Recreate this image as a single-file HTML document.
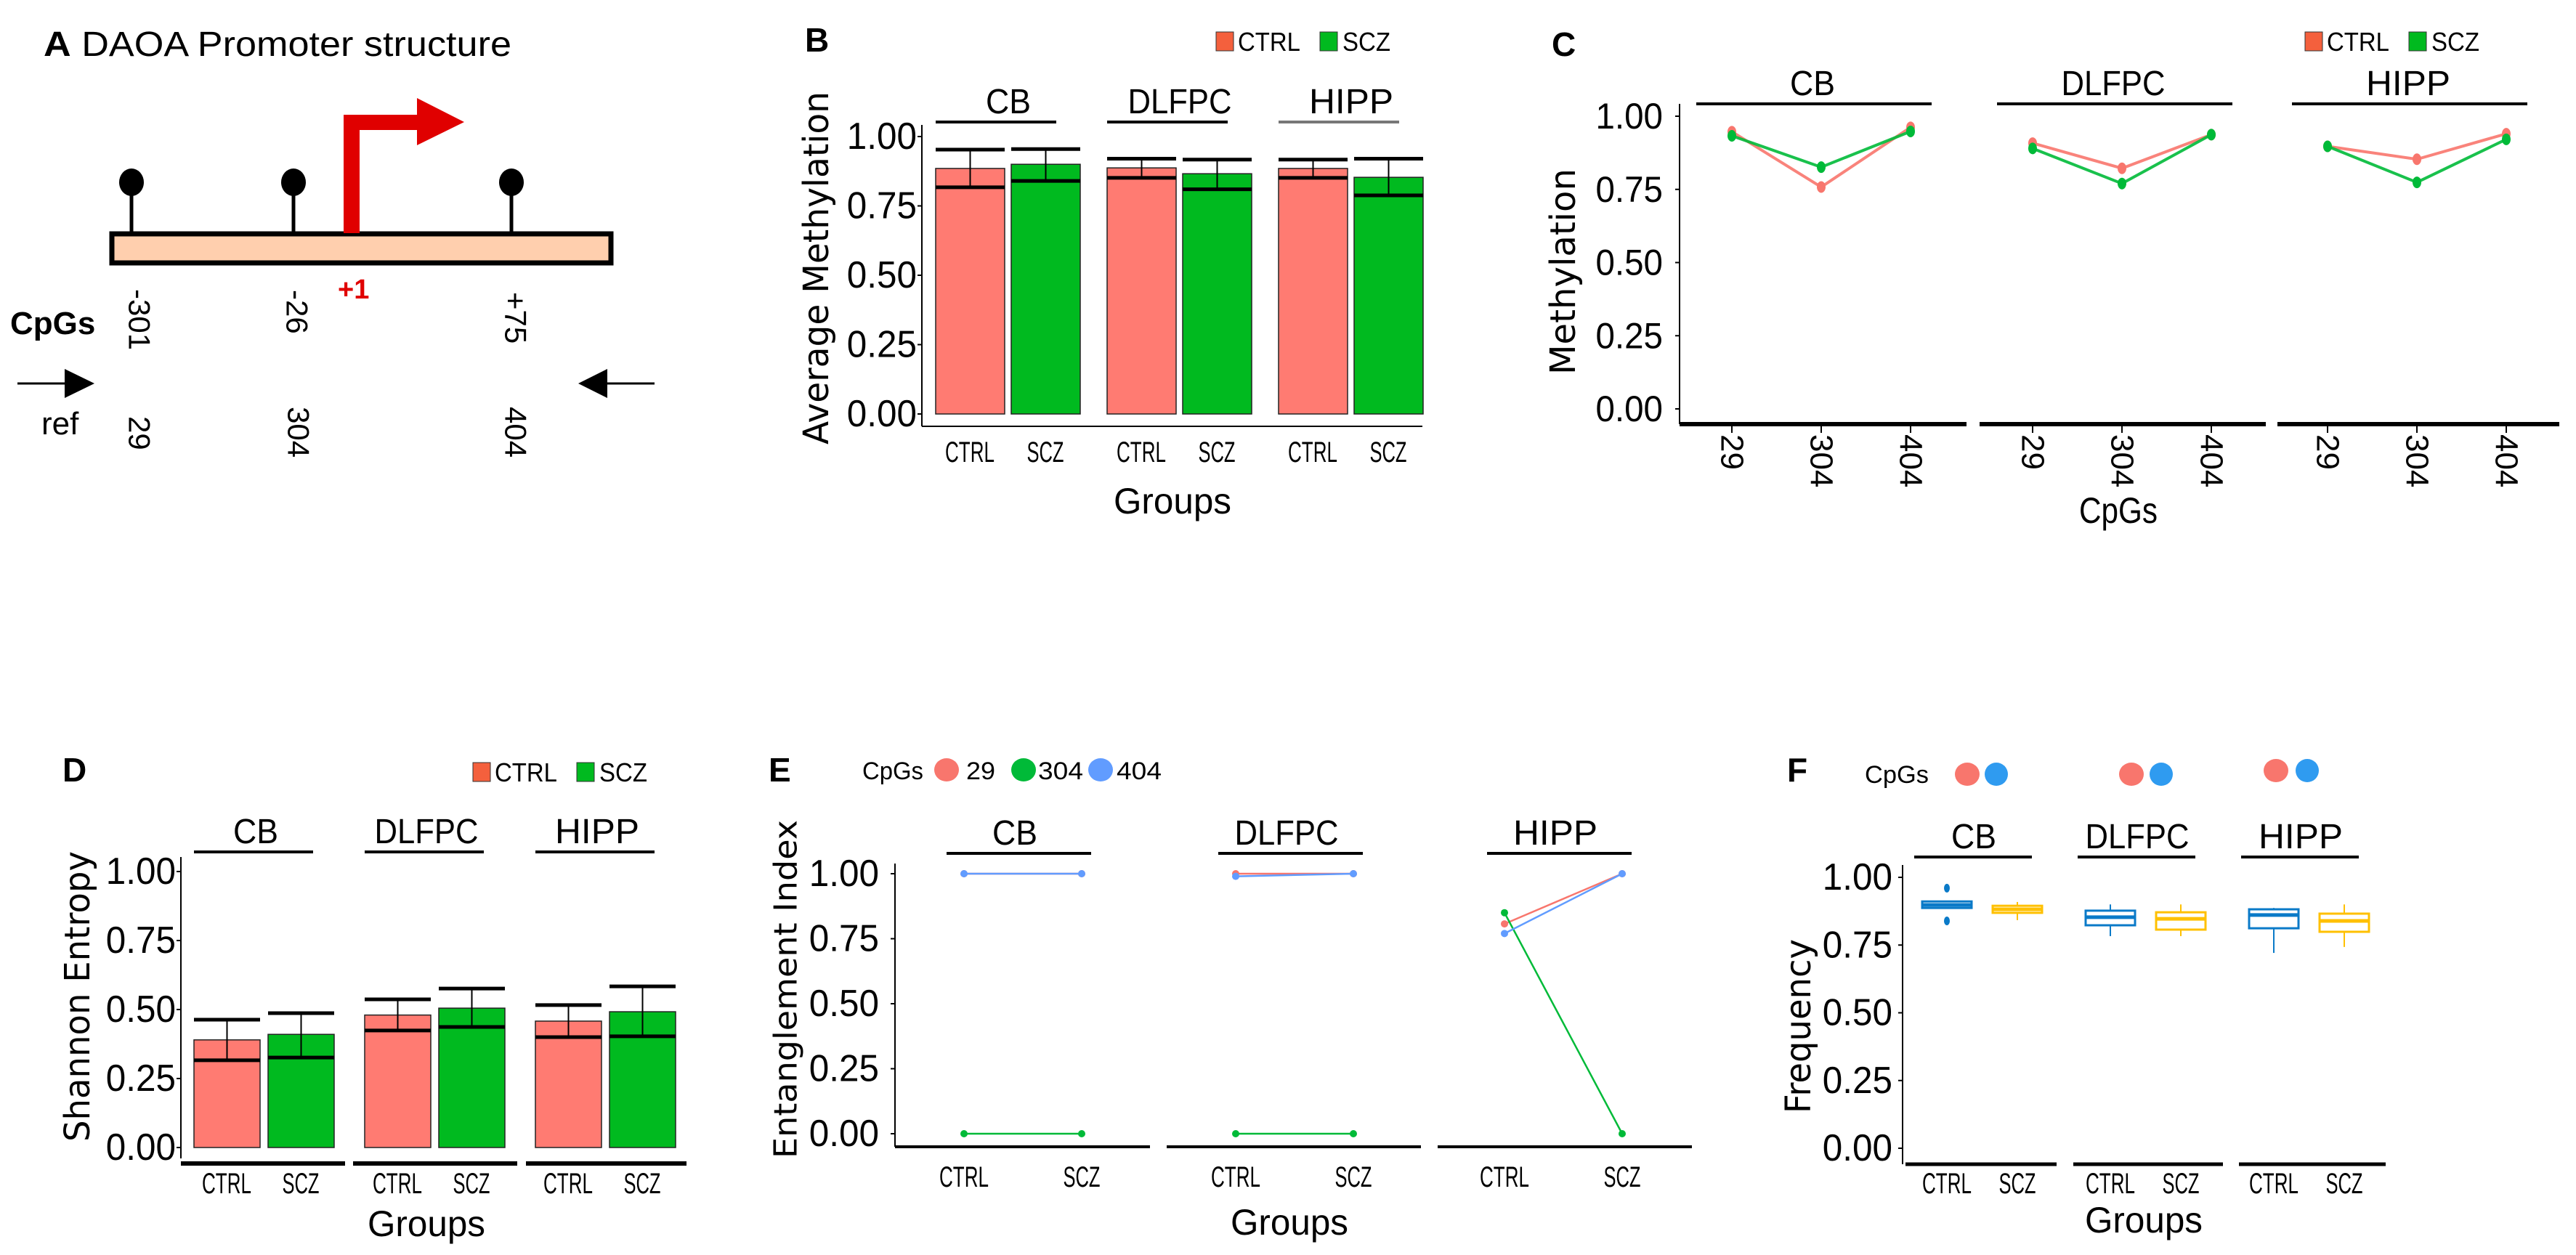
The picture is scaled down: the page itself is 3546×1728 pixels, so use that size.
<!DOCTYPE html>
<html><head><meta charset="utf-8">
<style>
html,body{margin:0;padding:0;background:#fff;}
svg{display:block;}
</style></head>
<body>
<svg id="fig" xmlns="http://www.w3.org/2000/svg" width="3546" height="1728" viewBox="0 0 3546 1728">
<rect x="0" y="0" width="3546" height="1728" fill="#fff"/>
<!-- Panel A: promoter structure -->
<g font-family="Liberation Sans, sans-serif">
  <text x="60" y="77" font-size="48" textLength="644" lengthAdjust="spacingAndGlyphs"><tspan font-weight="bold">A</tspan> DAOA Promoter structure</text>
  <line x1="181" y1="250" x2="181" y2="320" stroke="#000" stroke-width="5"/>
  <line x1="404" y1="250" x2="404" y2="320" stroke="#000" stroke-width="5"/>
  <line x1="704" y1="250" x2="704" y2="320" stroke="#000" stroke-width="5"/>
  <ellipse cx="181" cy="251" rx="17" ry="19" fill="#000"/>
  <ellipse cx="404" cy="251" rx="17" ry="19" fill="#000"/>
  <ellipse cx="704" cy="251" rx="17" ry="19" fill="#000"/>
  <rect x="154" y="322" width="687" height="40" fill="#ffcfae" stroke="#000" stroke-width="7"/>
  <path d="M473 321 L473 158 L574 158 L574 135 L639 168 L574 200 L574 179 L495 179 L495 321 Z" fill="#e00000"/>
  <text x="465" y="411" font-size="38" font-weight="bold" fill="#e00000">+1</text>
  <text x="14" y="460" font-size="44" font-weight="bold">CpGs</text>
  <text transform="translate(192,398) rotate(90)" font-size="42" dominant-baseline="central">-301</text>
  <text transform="translate(409,399) rotate(90)" font-size="42" dominant-baseline="central">-26</text>
  <text transform="translate(710,402) rotate(90)" font-size="42" dominant-baseline="central">+75</text>
  <line x1="24" y1="528" x2="92" y2="528" stroke="#000" stroke-width="3"/>
  <polygon points="89,508 130,528 89,548" fill="#000"/>
  <line x1="834" y1="528" x2="901" y2="528" stroke="#000" stroke-width="3"/>
  <polygon points="836,508 796,528 836,548" fill="#000"/>
  <text x="57" y="598" font-size="44">ref</text>
  <text transform="translate(192,573) rotate(90)" font-size="42" dominant-baseline="central">29</text>
  <text transform="translate(411,560) rotate(90)" font-size="42" dominant-baseline="central">304</text>
  <text transform="translate(710,560) rotate(90)" font-size="42" dominant-baseline="central">404</text>
</g>
<g id="charts"></g>
</svg>
<script>
// ---------- DATA ----------
const groups = ['CB', 'DLFPC', 'HIPP'];
const yTicks = [0, 0.25, 0.5, 0.75, 1];
const yTickLabels = ['0.00', '0.25', '0.50', '0.75', '1.00'];
const groupLabels = ['CTRL', 'SCZ'];
// Panel B: average methylation
const bCtrlMean = [0.885, 0.887, 0.885];
const bCtrlHi = [0.953, 0.920, 0.917];
const bCtrlLo = [0.817, 0.851, 0.851];
const bSczMean = [0.900, 0.866, 0.853];
const bSczHi = [0.955, 0.917, 0.920];
const bSczLo = [0.840, 0.810, 0.788];
// Panel C: methylation per CpG
const cpgs = ['29', '304', '404'];
const cCtrl = [[0.947, 0.758, 0.962], [0.908, 0.822, 0.937], [0.897, 0.853, 0.940]];
const cScz = [[0.933, 0.826, 0.948], [0.890, 0.770, 0.937], [0.897, 0.774, 0.921]];
// Panel D: Shannon entropy
const dCtrlMean = [0.390, 0.480, 0.458];
const dCtrlHi = [0.463, 0.537, 0.516];
const dCtrlLo = [0.316, 0.424, 0.400];
const dSczMean = [0.410, 0.505, 0.492];
const dSczHi = [0.487, 0.576, 0.584];
const dSczLo = [0.326, 0.437, 0.403];
// Panel E: entanglement index [group] -> [CTRL, SCZ]
const e29 = [[1.0, 1.0], [1.0, 1.0], [0.807, 1.0]];
const e304 = [[0.0, 0.0], [0.0, 0.0], [0.85, 0.0]];
const e404 = [[1.0, 1.0], [0.99, 1.0], [0.77, 1.0]];
// Panel F: frequency boxplots [lowWhisker, q1, median, q3, highWhisker]
const fCtrl = [[0.887, 0.887, 0.898, 0.911, 0.911], [0.783, 0.823, 0.853, 0.877, 0.900], [0.721, 0.812, 0.861, 0.882, 0.887]];
const fScz = [[0.842, 0.869, 0.882, 0.895, 0.909], [0.783, 0.807, 0.847, 0.871, 0.900], [0.743, 0.799, 0.839, 0.866, 0.900]];
const fCtrlOutliers = [[0.96, 0.839], [], []];

// ---------- HELPERS ----------
const NS = 'http://www.w3.org/2000/svg';
const root = document.getElementById('charts');
function mk(tag, attrs, parent) {
  const e = document.createElementNS(NS, tag);
  for (const k in attrs) e.setAttribute(k, attrs[k]);
  (parent || root).appendChild(e);
  return e;
}
function txt(x, y, s, size, parent, extra) {
  const e = mk('text', Object.assign({x: x, y: y, 'font-size': size, 'font-family': 'Liberation Sans, sans-serif', fill: '#000'}, extra || {}), parent);
  e.textContent = s;
  return e;
}
const RED = '#FF7B72', GREEN = '#00BA1F', LRED = '#F8766D', LGREEN = '#00BA38', BLUE = '#619CFF';
const BOXBLUE = '#0A7AC8', BOXGOLD = '#FFC000';

function panelLetter(x, y, s, name) {
  const t = txt(x, y, s, 46, root, {'font-weight': 'bold'});
  
  
}
function legendCtrlScz(x, y, name) {
  const g = mk('g', {});
  
  
  const r1 = mk('rect', {x: x, y: y - 26, width: 24, height: 26, fill: '#F4603D', stroke: '#333', 'stroke-width': 1}, g);
  
  
  const t1 = txt(x + 30, y, 'CTRL', 36, g, {textLength: 86, lengthAdjust: 'spacingAndGlyphs'});
  
  
  const r2 = mk('rect', {x: x + 143, y: y - 26, width: 24, height: 26, fill: '#00BA1F', stroke: '#333', 'stroke-width': 1}, g);
  
  
  const t2 = txt(x + 174, y, 'SCZ', 36, g, {textLength: 66, lengthAdjust: 'spacingAndGlyphs'});
  
  
}
function yAxis(ax, y0, y1, yScale, labelRight, size, name) {
  const g = mk('g', {});
  
  
  const l = mk('line', {x1: ax, y1: y0, x2: ax, y2: y1, stroke: '#000', 'stroke-width': 2}, g);
  
  
  yTicks.forEach((v, i) => {
    const yy = yScale(v);
    const tk = mk('line', {x1: ax - 6, y1: yy, x2: ax, y2: yy, stroke: '#000', 'stroke-width': 2}, g);
    
    
    const t = txt(labelRight, yy, yTickLabels[i], size, g, {'text-anchor': 'end', 'dominant-baseline': 'central', textLength: size * 1.85, lengthAdjust: 'spacingAndGlyphs'});
    
    
  });
}
function yTitle(cx, cy, s, size, len, name) {
  const t = txt(0, 0, s, size, root, {'text-anchor': 'middle', 'dominant-baseline': 'central', 'font-family': 'DejaVu Sans, sans-serif', textLength: len, lengthAdjust: 'spacingAndGlyphs', transform: 'translate(' + cx + ',' + cy + ') rotate(-90)'});
  
  
}
function strip(cx, lineY, x1, x2, s, name, col) {
  const t = txt(cx, lineY - 12, s, 48, root, {'text-anchor': 'middle', textLength: s.length * 27 + 8, lengthAdjust: 'spacingAndGlyphs'});
  
  
  const l = mk('line', {x1: x1, y1: lineY, x2: x2, y2: lineY, stroke: col || '#000', 'stroke-width': 4});
  
  
}
function xLabel(cx, y, s, size, name) {
  const t = txt(cx, y, s, size, root, {'text-anchor': 'middle', textLength: s.length * 17, lengthAdjust: 'spacingAndGlyphs'});
  
  
}
function axisTitle(cx, y, s, name) {
  const t = txt(cx, y, s, 50, root, {'text-anchor': 'middle', textLength: s.length * 27, lengthAdjust: 'spacingAndGlyphs'});
  
  
}
function errBar(cx, w, yHi, yLo, name) {
  const g = mk('g', {});
  
  
  mk('line', {x1: cx, y1: yHi, x2: cx, y2: yLo, stroke: '#000', 'stroke-width': 2}, g);
  mk('line', {x1: cx - w / 2, y1: yHi, x2: cx + w / 2, y2: yHi, stroke: '#000', 'stroke-width': 5}, g);
  mk('line', {x1: cx - w / 2, y1: yLo, x2: cx + w / 2, y2: yLo, stroke: '#000', 'stroke-width': 5}, g);
}
function barPanel(opt) {
  const {xs, barW, off, yScale, cm, ch, cl, sm, sh, sl, prefix} = opt;
  groups.forEach((gname, i) => {
    const x0 = xs(i);
    const vals = [[cm, ch, cl, RED, 'ctrl'], [sm, sh, sl, GREEN, 'scz']];
    vals.forEach((v, j) => {
      const bx = x0 + j * off;
      const top = yScale(v[0][i]);
      const r = mk('rect', {x: bx, y: top, width: barW, height: yScale(0) - top, fill: v[3], stroke: '#222', 'stroke-width': 1.5});
      
      
      errBar(bx + barW / 2, barW, yScale(v[1][i]), yScale(v[2][i]), prefix + '-errorbar-' + gname.toLowerCase() + '-' + v[4]);
    });
  });
}

// ---------- PANEL B ----------
panelLetter(1108, 71, 'B', 'panel-b-letter');
legendCtrlScz(1674, 70, 'panel-b-legend');
const yB = v => 570 - v * 382;
const xB = i => 1288 + i * 236;
yTitle(1124, 369, 'Average Methylation', 48, 486, 'panel-b-y-title');
yAxis(1269, 172, 587, yB, 1262, 52, 'panel-b-y-axis');
{ const l = mk('line', {x1: 1269, y1: 587, x2: 1958, y2: 587, stroke: '#000', 'stroke-width': 2});
    }
barPanel({xs: xB, barW: 95, off: 104, yScale: yB, cm: bCtrlMean, ch: bCtrlHi, cl: bCtrlLo, sm: bSczMean, sh: bSczHi, sl: bSczLo, prefix: 'b'});
groups.forEach((g, i) => {
  strip(xB(i) + 100, 168, xB(i), xB(i) + 166, g, 'panel-b-strip-' + g.toLowerCase(), i === 2 ? '#777' : '#000');
  groupLabels.forEach((gl, j) => xLabel(xB(i) + 47 + j * 104, 636, gl, 40, 'panel-b-x-label-' + g.toLowerCase() + '-' + gl.toLowerCase()));
});
axisTitle(1614, 707, 'Groups', 'panel-b-x-title');

// ---------- PANEL C ----------
panelLetter(2136, 77, 'C', 'panel-c-letter');
legendCtrlScz(3173, 70, 'panel-c-legend');
const yC = v => 563 - v * 403;
const cBase = [2384, 2798, 3204];
const xC = (p, k) => cBase[p] + k * 123;
yTitle(2152, 374, 'Methylation', 48, 284, 'panel-c-y-title');
yAxis(2312, 143, 584, yC, 2289, 50, 'panel-c-y-axis');
const cAxisSeg = [[2312, 2707], [2725, 3119], [3135, 3523]];
groups.forEach((g, p) => {
  const l = mk('line', {x1: cAxisSeg[p][0], y1: 584, x2: cAxisSeg[p][1], y2: 584, stroke: '#000', 'stroke-width': 6});
  
  
  strip(cBase[p] + 111, 143, cBase[p] - 49, cBase[p] + 275, g, 'panel-c-strip-' + g.toLowerCase());
  cpgs.forEach((c, k) => {
    const tk = mk('line', {x1: xC(p, k), y1: 584, x2: xC(p, k), y2: 596, stroke: '#000', 'stroke-width': 2});
    
    
    const t = txt(0, 0, c, 44, root, {'dominant-baseline': 'central', transform: 'translate(' + xC(p, k) + ',598) rotate(90)'});
    
    
  });
  [[cCtrl, LRED, 'ctrl'], [cScz, LGREEN, 'scz']].forEach(([arr, col, nm]) => {
    const pts = arr[p].map((v, k) => xC(p, k) + ',' + yC(v)).join(' ');
    const pl = mk('polyline', {points: pts, fill: 'none', stroke: col, 'stroke-width': 4, 'stroke-opacity': 0.9});
    
    
    arr[p].forEach((v, k) => {
      const c = mk('ellipse', {cx: xC(p, k), cy: yC(v), rx: 6, ry: 8, fill: col});
      
      
    });
  });
});
axisTitle(2916, 720, 'CpGs', 'panel-c-x-title');

// ---------- PANEL D ----------
panelLetter(86, 1076, 'D', 'panel-d-letter');
legendCtrlScz(651, 1076, 'panel-d-legend');
const yD = v => 1580 - v * 380;
const xD = i => 267 + i * 235;
yTitle(107, 1372, 'Shannon Entropy', 48, 400, 'panel-d-y-title');
yAxis(249, 1180, 1595, yD, 242, 52, 'panel-d-y-axis');
const dAxisSeg = [[249, 475], [486, 712], [724, 945]];
barPanel({xs: xD, barW: 91, off: 102, yScale: yD, cm: dCtrlMean, ch: dCtrlHi, cl: dCtrlLo, sm: dSczMean, sh: dSczHi, sl: dSczLo, prefix: 'd'});
groups.forEach((g, i) => {
  const l = mk('line', {x1: dAxisSeg[i][0], y1: 1602, x2: dAxisSeg[i][1], y2: 1602, stroke: '#000', 'stroke-width': 6});
  
  
  strip(xD(i) + 85, 1173, xD(i), xD(i) + 164, g, 'panel-d-strip-' + g.toLowerCase());
  groupLabels.forEach((gl, j) => xLabel(xD(i) + 45 + j * 102, 1643, gl, 40, 'panel-d-x-label-' + g.toLowerCase() + '-' + gl.toLowerCase()));
});
axisTitle(587, 1702, 'Groups', 'panel-d-x-title');

// ---------- PANEL E ----------
panelLetter(1058, 1076, 'E', 'panel-e-letter');
{
  const g = mk('g', {});
  
  
  txt(1187, 1073, 'CpGs', 34, g, {textLength: 84, lengthAdjust: 'spacingAndGlyphs'});
  const items = [[1303, LRED, '29', 1330, 40], [1409, LGREEN, '304', 1429, 62], [1515, BLUE, '404', 1537, 62]];
  items.forEach(([cx, col, s, tx, tl]) => {
    const c = mk('ellipse', {cx: cx, cy: 1060, rx: 17, ry: 16, fill: col}, g);
    
    
    const t = txt(tx, 1073, s, 34, g, {textLength: tl, lengthAdjust: 'spacingAndGlyphs'});
    
    
  });
}
const yE = v => 1561 - v * 358;
const eBase = [1327, 1701, 2071];
const xE = (p, j) => eBase[p] + j * 162;
yTitle(1082, 1362, 'Entanglement Index', 44, 466, 'panel-e-y-title');
yAxis(1232, 1189, 1579, yE, 1210, 52, 'panel-e-y-axis');
const eAxisSeg = [[1232, 1583], [1606, 1956], [1979, 2329]];
groups.forEach((g, p) => {
  const l = mk('line', {x1: eAxisSeg[p][0], y1: 1579, x2: eAxisSeg[p][1], y2: 1579, stroke: '#000', 'stroke-width': 4});
  
  
  strip(eBase[p] + 70, 1175, eBase[p] - 24, eBase[p] + 175, g, 'panel-e-strip-' + g.toLowerCase());
  groupLabels.forEach((gl, j) => xLabel(xE(p, j), 1634, gl, 40, 'panel-e-x-label-' + g.toLowerCase() + '-' + gl.toLowerCase()));
  [[e29, LRED, '29'], [e304, LGREEN, '304'], [e404, BLUE, '404']].forEach(([arr, col, nm]) => {
    const v = arr[p];
    const pl = mk('line', {x1: xE(p, 0), y1: yE(v[0]), x2: xE(p, 1), y2: yE(v[1]), stroke: col, 'stroke-width': 2.5});
    
    
    v.forEach((vv, j) => {
      const c = mk('circle', {cx: xE(p, j), cy: yE(vv), r: 5, fill: col});
      
      
    });
  });
});
axisTitle(1775, 1700, 'Groups', 'panel-e-x-title');

// ---------- PANEL F ----------
panelLetter(2460, 1076, 'F', 'panel-f-letter');
{
  const g = mk('g', {});
  
  
  txt(2567, 1078, 'CpGs', 34, g, {textLength: 88, lengthAdjust: 'spacingAndGlyphs'});
  [[2708, 2748, 1066], [2934, 2975, 1066], [3133, 3176, 1061]].forEach(([a, b, cy], i) => {
    const c1 = mk('ellipse', {cx: a, cy: cy, rx: 17, ry: 16, fill: LRED}, g);
    
    
    const c2 = mk('ellipse', {cx: b, cy: cy, rx: 16, ry: 16, fill: '#2F9BF0'}, g);
    
    
  });
}
const yF = v => 1581 - v * 373;
const fBase = [2680, 2905, 3130];
const xF = (p, j) => fBase[p] + j * 97;
yTitle(2476, 1413, 'Frequency', 48, 240, 'panel-f-y-title');
yAxis(2619, 1191, 1603, yF, 2605, 52, 'panel-f-y-axis');
const fAxisSeg = [[2623, 2831], [2854, 3060], [3082, 3284]];
groups.forEach((g, p) => {
  const l = mk('line', {x1: fAxisSeg[p][0], y1: 1603, x2: fAxisSeg[p][1], y2: 1603, stroke: '#000', 'stroke-width': 5});
  
  
  strip(fBase[p] + 37, 1180, fBase[p] - 45, fBase[p] + 117, g, 'panel-f-strip-' + g.toLowerCase());
  groupLabels.forEach((gl, j) => xLabel(xF(p, j), 1643, gl, 40, 'panel-f-x-label-' + g.toLowerCase() + '-' + gl.toLowerCase()));
  [[fCtrl, BOXBLUE, 'ctrl'], [fScz, BOXGOLD, 'scz']].forEach(([arr, col, nm], j) => {
    const s = arr[p];
    const cx = xF(p, j);
    const bg = mk('g', {});
    
    
    mk('line', {x1: cx, y1: yF(s[4]), x2: cx, y2: yF(s[3]), stroke: col, 'stroke-width': 2}, bg);
    mk('line', {x1: cx, y1: yF(s[1]), x2: cx, y2: yF(s[0]), stroke: col, 'stroke-width': 2}, bg);
    mk('rect', {x: cx - 34, y: yF(s[3]), width: 68, height: yF(s[1]) - yF(s[3]), fill: '#fff', stroke: col, 'stroke-width': 3}, bg);
    mk('line', {x1: cx - 34, y1: yF(s[2]), x2: cx + 34, y2: yF(s[2]), stroke: col, 'stroke-width': 5}, bg);
  });
  fCtrlOutliers[p].forEach(v => {
    const c = mk('ellipse', {cx: xF(p, 0), cy: yF(v), rx: 4, ry: 6, fill: BOXBLUE});
    
    
  });
});
axisTitle(2951, 1697, 'Groups', 'panel-f-x-title');
</script>
</body></html>
